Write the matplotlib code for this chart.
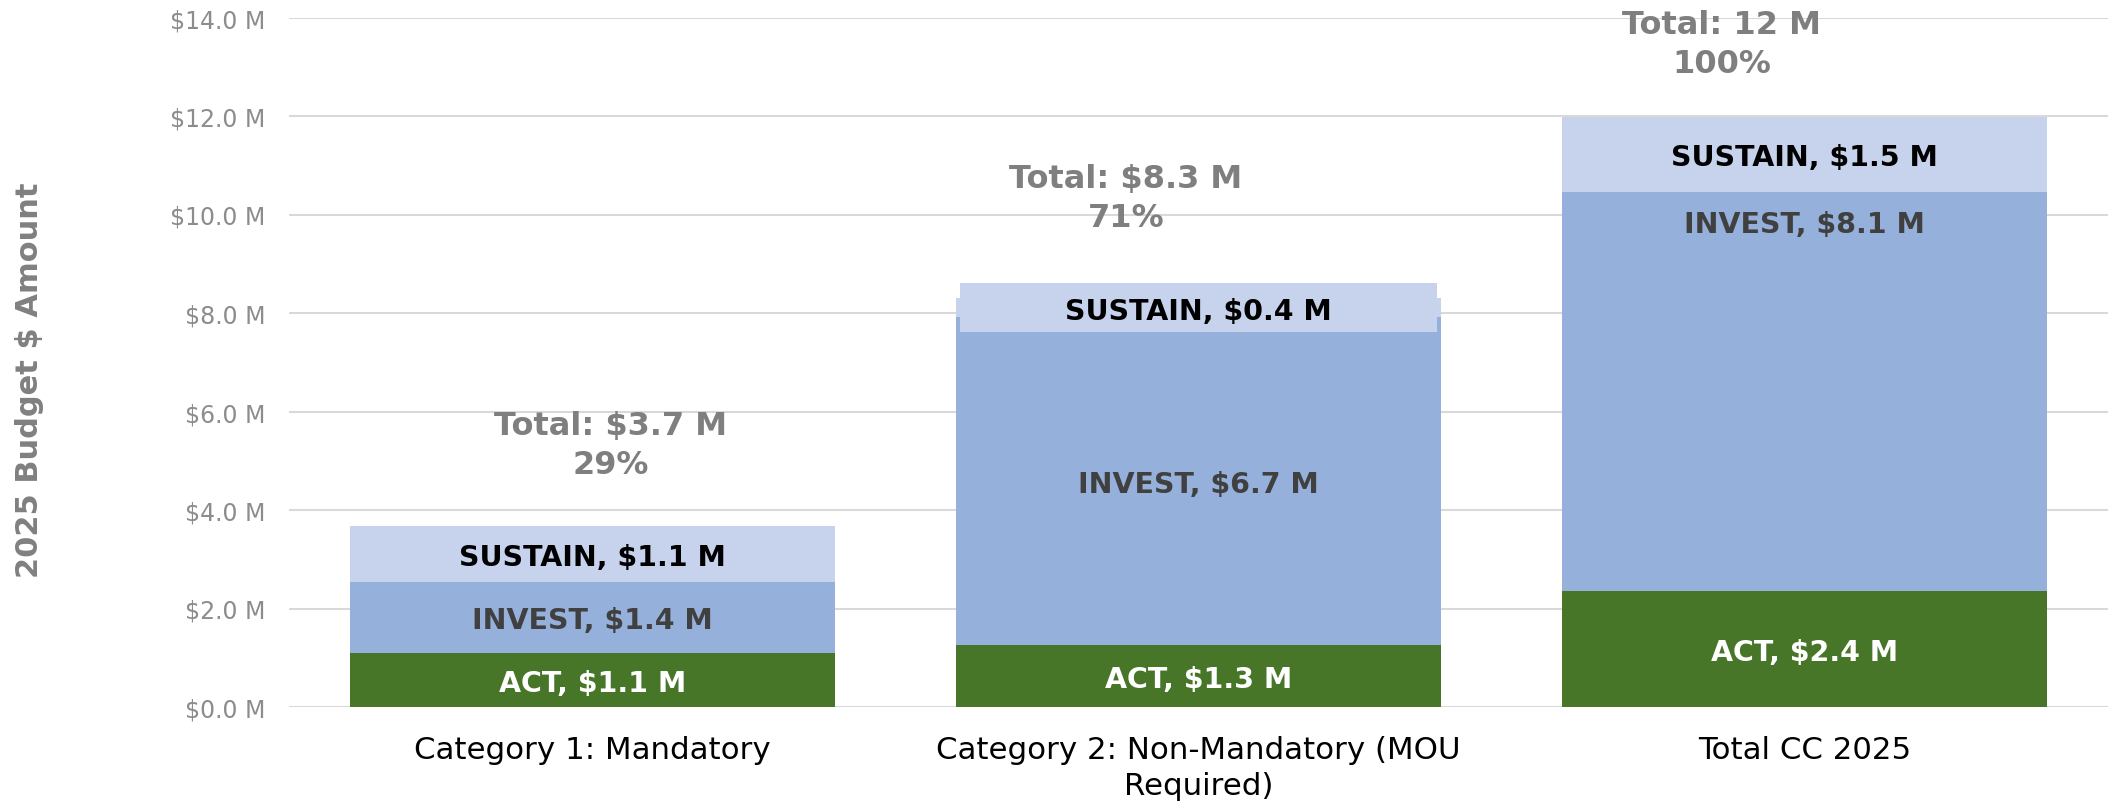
import matplotlib.pyplot as plt
from matplotlib.patches import Rectangle

# Budget data ($ M)
categories = ['Category 1: Mandatory', 'Category 2: Non-Mandatory (MOU\nRequired)', 'Total CC 2025']
act = [1.10, 1.26, 2.36]
invest = [1.44, 6.66, 8.10]
sustain = [1.14, 0.38, 1.52]
total_text = ['Total: $3.7 M', 'Total: $8.3 M', 'Total: 12 M']
pct_text = ['29%', '71%', '100%']
yticks = [0, 2, 4, 6, 8, 10, 12, 14]

# label placement tweaks (data units)
total_dx = [0.03, -0.12, -0.137]
total_dy = [1.64, 2.04, 1.48]
invest_label_y = [None, None, 9.86]

c_act = '#487629'
c_inv = '#95b0da'
c_sus = '#c7d3ec'

fig = plt.figure(figsize=(21.08, 8.04), dpi=100)
ax = fig.add_axes([289 / 2108, 96 / 804, 1 - 289 / 2108, 689.5 / 804])

x = list(range(len(categories)))
w = 0.8
bottom_inv = act
bottom_sus = [a + b for a, b in zip(act, invest)]
tops = [a + b for a, b in zip(bottom_sus, sustain)]

ax.bar(x, act, width=w, color=c_act, zorder=2)
ax.bar(x, invest, width=w, bottom=bottom_inv, color=c_inv, zorder=2)
ax.bar(x, sustain, width=w, bottom=bottom_sus, color=c_sus, zorder=2)

lbl = dict(ha='center', va='center_baseline', fontsize=20.5, fontweight='bold', zorder=5)
for i in x:
    ax.text(i, act[i] / 2, f'ACT, ${act[i]:.1f} M', color='white', **lbl)
    yi = invest_label_y[i] if invest_label_y[i] is not None else bottom_inv[i] + invest[i] / 2
    ax.text(i, yi, f'INVEST, ${invest[i]:.1f} M', color='#404040', **lbl)
    ys = bottom_sus[i] + sustain[i] / 2
    # label background box like the original data label fill
    ax.add_patch(Rectangle((i - w * 0.985 / 2, ys - 0.5), w * 0.985, 1.0,
                           facecolor=c_sus, edgecolor='none', zorder=3))
    ax.text(i, ys, f'SUSTAIN, ${sustain[i]:.1f} M', color='black', **lbl)
    ax.text(i + total_dx[i], tops[i] + total_dy[i], total_text[i] + '\n' + pct_text[i],
            ha='center', va='center', fontsize=23, fontweight='bold', color='#7f7f7f',
            linespacing=1.33, zorder=5)

ax.set_xlim(-0.5, 2.5)
ax.set_ylim(0, 14)
ax.set_yticks(yticks)
ax.set_yticklabels([f'${v:.1f} M' for v in yticks])
ax.set_xticks(x)
ax.set_xticklabels(categories, linespacing=1.33)
ax.tick_params(axis='y', length=0, pad=17, labelsize=17, labelcolor='#8c8c8c')
ax.tick_params(axis='x', length=0, pad=20, labelsize=22.2, labelcolor='black')
for s in ax.spines.values():
    s.set_visible(False)
ax.yaxis.grid(True, color='#d9d9d9', linewidth=1.5)
ax.set_axisbelow(True)

fig.text(30 / 2108, 1 - 380 / 804, '2025 Budget $ Amount', rotation=90,
         ha='center', va='center', fontsize=22, fontweight='bold', color='#808080')

fig.savefig('out.png', dpi=100)
